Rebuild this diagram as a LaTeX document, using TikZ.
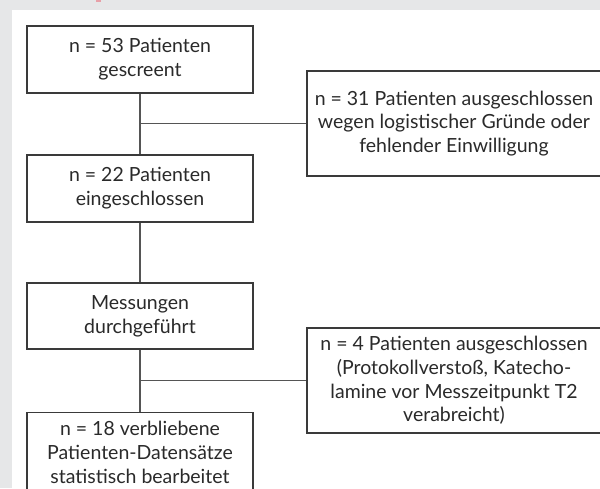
\documentclass[tikz,border=0pt]{standalone}
\usepackage{fontspec}
\setmainfont{Lato}
\definecolor{bggray}{HTML}{E6E7E8}
\definecolor{boxc}{HTML}{3A3A3A}
\definecolor{linec}{HTML}{555555}
\definecolor{textc}{HTML}{2A2A2A}
\definecolor{markred}{HTML}{E8A0A8}
\begin{document}
\begin{tikzpicture}[x=1pt,y=-1pt,
  box/.style={draw=boxc, line width=1.1pt, fill=white, align=center, inner sep=0pt,
    text=textc, font=\fontsize{19.5}{23.8}\selectfont},
  leftbox/.style={box, minimum width=226pt},
  rightbox/.style={box, minimum width=294pt, minimum height=105pt},
  link/.style={draw=linec, line width=1.2pt}]
\useasboundingbox (0,0) rectangle (600,488);
\clip (0,0) rectangle (600,488);
\fill[bggray] (0,0) rectangle (600,488);
\fill[white] (12,10) rectangle (600,488);
\fill[markred] (96,0) rectangle (101,1.5);
\node[leftbox, minimum height=67pt] (b1) at (140,59.5) {n = 53 Patienten\\gescreent};
\node[leftbox, minimum height=67pt] (b2) at (140,188.5) {n = 22 Patienten\\eingeschlossen};
\node[leftbox, minimum height=66pt] (b3) at (140,316) {Messungen\\durchgeführt};
\node[leftbox, minimum height=80pt, anchor=north] (b4) at (140,412) {n = 18 verbliebene\\Patienten-Datensätze\\statistisch bearbeitet};
\node[rightbox] (r1) at (454,123.5) {n = 31 Patienten ausgeschlossen\\wegen logistischer Gründe oder\\fehlender Einwilligung};
\node[rightbox] (r2) at (454,380.5) {n = 4 Patienten ausgeschlossen\\(Protokollverstoß, Katecho-\\lamine vor Messzeitpunkt T2\\verabreicht)};
\draw[link] (b1.south) -- (b2.north);
\draw[link] (b2.south) -- (b3.north);
\draw[link] (b3.south) -- (b4.north);
\coordinate (j1) at (b1.south |- r1.west);
\coordinate (j2) at (b3.south |- r2.west);
\draw[link] (j1) -- (r1.west);
\draw[link] (j2) -- (r2.west);
\end{tikzpicture}
\end{document}
